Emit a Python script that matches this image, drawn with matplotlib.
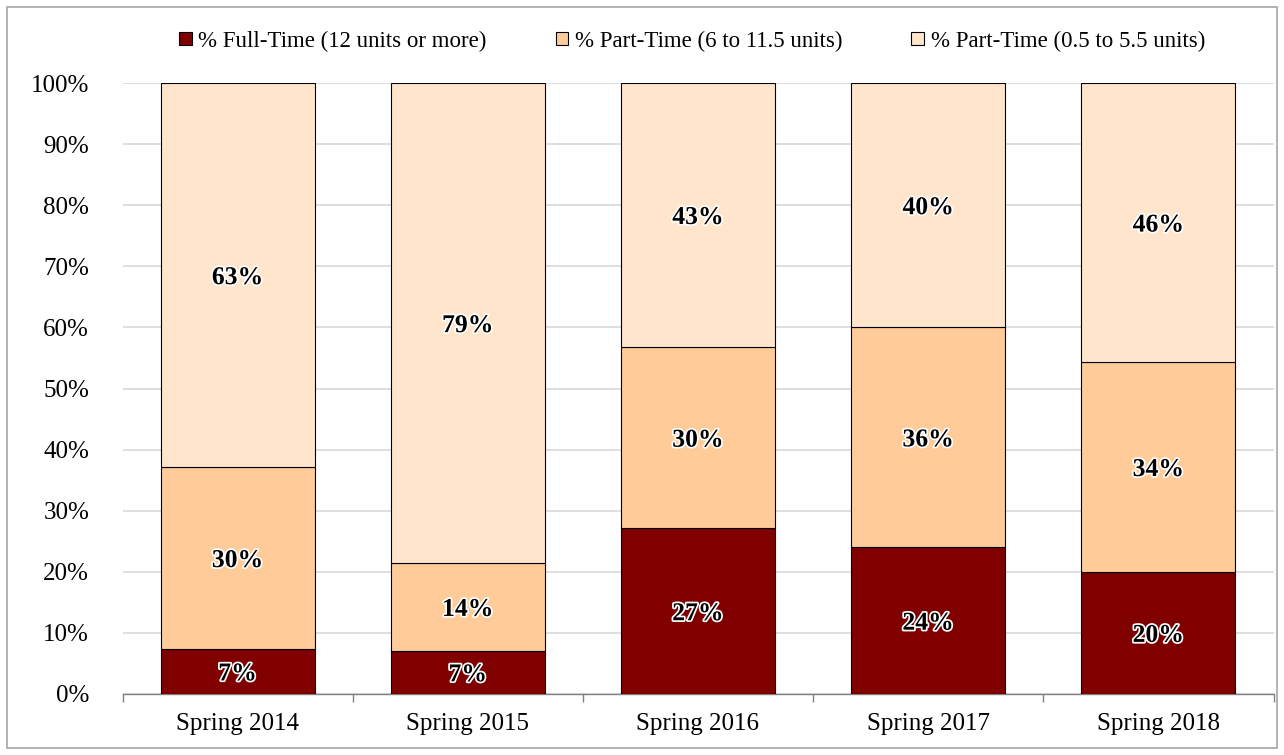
import matplotlib
matplotlib.use("Agg")
import matplotlib.pyplot as plt
import matplotlib.patheffects as pe
import numpy as np

categories = ["Spring 2014", "Spring 2015", "Spring 2016", "Spring 2017", "Spring 2018"]
full_time = [7.4, 7.1, 27.1, 24.0, 20.0]
part_6_115 = [29.7, 14.3, 29.7, 36.0, 34.3]
part_05_55 = [62.9, 78.6, 43.2, 40.0, 45.7]
labels_ft = ["7%", "7%", "27%", "24%", "20%"]
labels_p6 = ["30%", "14%", "30%", "36%", "34%"]
labels_p05 = ["63%", "79%", "43%", "40%", "46%"]
series_names = ["% Full-Time (12 units or more)", "% Part-Time (6 to 11.5 units)",
                "% Part-Time (0.5 to 5.5 units)"]
colors = ["#800000", "#FFCC99", "#FFE5CC"]

plt.rcParams['font.family'] = ['Liberation Serif', 'DejaVu Serif']

W, H = 1284, 755
fig = plt.figure(figsize=(W/100, H/100), dpi=100)
fig.patches.append(plt.Rectangle((7/W, 7/H), (W-14)/W, (H-14)/H, transform=fig.transFigure,
                                 fill=False, edgecolor="#a6a6a6", linewidth=1.2))
ax = fig.add_axes([122.5/W, 61/H, (1273.5-122.5)/W, 611/H])

x = np.arange(len(categories))
width = 154/230.2
bottoms = np.zeros(len(categories))
all_vals = [full_time, part_6_115, part_05_55]
all_labels = [labels_ft, labels_p6, labels_p05]
for vals, labs, c, name in zip(all_vals, all_labels, colors, series_names):
    vals = np.array(vals)
    ax.bar(x, vals, width, bottom=bottoms, color=c, edgecolor="black", linewidth=0.8,
           label=name, zorder=3)
    for xi, b, v, lab in zip(x, bottoms, vals, labs):
        ax.text(xi, b + v/2, lab, ha="center", va="center_baseline", fontsize=18.5,
                fontweight="bold", color="black", zorder=5,
                path_effects=[pe.withStroke(linewidth=2.5, foreground="white")])
    bottoms = bottoms + vals

ax.set_xlim(-0.5, len(categories) - 0.5)
ax.set_ylim(0, 100)
ax.set_yticks(np.arange(0, 101, 10))
ax.set_yticklabels([f"{v}%" for v in range(0, 101, 10)], fontsize=18)
ax.yaxis.grid(True, color="#d9d9d9", linewidth=1.2, zorder=0)
ax.set_axisbelow(True)
ax.tick_params(axis="y", length=0, pad=24)
ax.set_xticks(x)
ax.set_xticklabels(categories, fontsize=18)
ax.tick_params(axis="x", length=0, pad=14)
ax.set_xticks(np.arange(-0.5, len(categories) + 0.5, 1), minor=True)
ax.tick_params(axis="x", which="minor", length=6, color="#808080", width=1)
for s in ["top", "right", "left"]:
    ax.spines[s].set_visible(False)
ax.spines["bottom"].set_color("#808080")
ax.spines["bottom"].set_linewidth(1)

leg = fig.legend(loc="upper center", bbox_to_anchor=(0.539, 0.987), ncol=3, frameon=False,
                 fontsize=16.5, handlelength=0.55, handleheight=0.55, handletextpad=0.3,
                 columnspacing=3.0)

fig.savefig("out.png", dpi=100)
